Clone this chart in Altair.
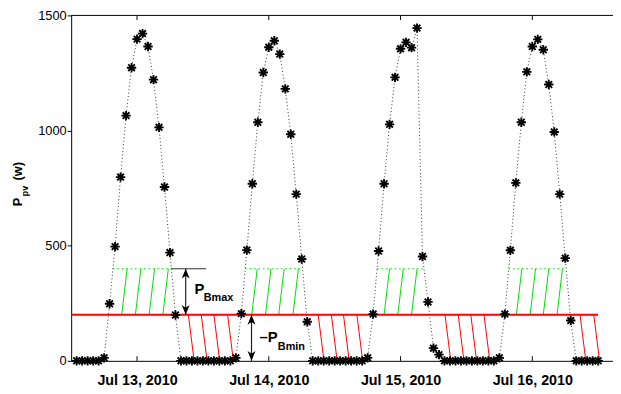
import altair as alt
import pandas as pd

# ---------------- data ----------------
# hourly samples, hours counted from Jul 13, 2010 00:00
hours = list(range(-11, 85))
p_pv = [0, 0, 0, 0, 0,
        13, 248, 496, 798, 1065, 1273, 1397, 1421, 1365, 1221, 1014, 755, 470, 199,
        0, 0, 0, 0, 0, 0, 0, 0, 0, 0,
        13, 205, 481, 769, 1036, 1252, 1362, 1390, 1332, 1181, 984, 724, 442, 170,
        0, 0, 0, 0, 0, 0, 0, 0, 0, 0,
        13, 203, 477, 769, 1027, 1231, 1355, 1383, 1360, 1445, 453, 256, 55, 27,
        0, 0, 0, 0, 0, 0, 0, 0, 0, 0,
        13, 203, 480, 773, 1036, 1255, 1365, 1396, 1351, 1200, 994, 724, 446, 175,
        0, 0, 0, 0, 0]

x_tick_hours = [0, 24, 48, 72]
x_tick_labels = ["Jul 13, 2010", "Jul 14, 2010", "Jul 15, 2010", "Jul 16, 2010"]
y_ticks = [0, 500, 1000, 1500]

p_ref = 200          # red reference level
p_top = 400          # upper (P_Bmax) level
red_line_span = [-12, 84]
green_span_start = [-4.4, 19.7, 43.7, 67.7]
green_span_end = [6.2, 30.1, 52.3, 78.2]
green_hatch = [-2.8, -0.3, 2.2, 4.7, 20.9, 23.4, 25.8, 28.4, 45.0, 47.5, 50.0, 69.1, 71.6, 74.0, 76.5]
green_hatch_shift = 1.0
red_hatch = [9.35, 11.7, 14.0, 16.5, 33.0, 35.4, 37.6, 40.05, 56.1, 58.5, 60.8, 63.2, 80.7, 83.2]
red_hatch_shift = 1.05
bmax_arrow_hour = 8.86
bmax_level_span = [6.2, 12.6]
bmin_arrow_hour = 20.85

big_text = ["P", "\u2013P"]
big_text_h = [10.45, 22.3]
big_text_p = [290, 83]
sub_text = ["Bmax", "Bmin"]
sub_text_h = [12.15, 25.65]
sub_text_p = [259, 48]

X_DOMAIN = [-12, 86.7]
FONT = "Liberation Sans"

# ---------------- scales / axes ----------------
xs = alt.Scale(domain=X_DOMAIN, nice=False, zero=False)
ys = alt.Scale(domain=[0, 1500], nice=False, zero=False)
label_expr = "[" + ", ".join("'%s'" % s for s in x_tick_labels) + "][datum.value / 24]"
x_axis = alt.Axis(values=x_tick_hours, labelExpr=label_expr, title=None, grid=False,
                  ticks=False, tickSize=0, domainColor="black", domainWidth=1,
                  labelFont=FONT, labelFontSize=14.5, labelFontWeight="bold",
                  labelColor="black", labelPadding=13, labelFlush=False)
y_axis = alt.Axis(values=y_ticks, format="d", title=None, grid=False, tickSize=4,
                  tickColor="black", tickWidth=1, domainColor="black", domainWidth=1,
                  labelFont=FONT, labelFontSize=13, labelColor="black", labelPadding=1)


def X(f):
    return alt.X(f, type="quantitative", scale=xs, axis=x_axis)


def Y(f):
    return alt.Y(f, type="quantitative", scale=ys, axis=y_axis)


df = pd.DataFrame({"h": hours, "p": p_pv})

ASTERISK = ("M-1,0L1,0M0,-1L0,1M-0.71,-0.71L0.71,0.71M-0.71,0.71L0.71,-0.71")
HEAD_UP = "M0,0L-1,2.5L0,1.8L1,2.5Z"
HEAD_DOWN = "M0,0L-1,-2.5L0,-1.8L1,-2.5Z"

# green hatch
gh = pd.DataFrame({"h1": green_hatch,
                   "h2": [t + green_hatch_shift for t in green_hatch],
                   "y1": [p_ref] * len(green_hatch),
                   "y2": [p_top] * len(green_hatch)})
green_h = alt.Chart(gh).mark_rule(color="#00dd00", strokeWidth=1).encode(
    x=X("h1"), x2="h2", y=Y("y1"), y2="y2")

gs = pd.DataFrame({"h1": green_span_start, "h2": green_span_end,
                   "p": [p_top] * len(green_span_start)})
green_top = alt.Chart(gs).mark_rule(color="#00dd00", strokeWidth=1.2, strokeDash=[1.5, 3]).encode(
    x=X("h1"), x2="h2", y=Y("p"))

# red hatch
rh = pd.DataFrame({"h1": red_hatch,
                   "h2": [t + red_hatch_shift for t in red_hatch],
                   "y1": [p_ref] * len(red_hatch),
                   "y2": [0] * len(red_hatch)})
red_h = alt.Chart(rh).mark_rule(color="#ff0000", strokeWidth=1).encode(
    x=X("h1"), x2="h2", y=Y("y1"), y2="y2")

ref_df = pd.DataFrame({"h1": [red_line_span[0]], "h2": [red_line_span[1]], "p": [p_ref]})
red_line = alt.Chart(ref_df).mark_rule(color="#ff0000", strokeWidth=2).encode(
    x=X("h1"), x2="h2", y=Y("p"))

# data line + markers
line = alt.Chart(df).mark_line(color="#333333", strokeWidth=1, strokeDash=[1, 2.5]).encode(
    x=X("h"), y=Y("p"))
stars = alt.Chart(df).mark_point(shape=ASTERISK, filled=False, size=90, strokeWidth=1.9,
                                 color="black", opacity=1).encode(x=X("h"), y=Y("p"))

# P_Bmax level marker and arrows
lvl = pd.DataFrame({"h1": [bmax_level_span[0]], "h2": [bmax_level_span[1]], "p": [p_top]})
level = alt.Chart(lvl).mark_rule(color="#333333", strokeWidth=1.2).encode(
    x=X("h1"), x2="h2", y=Y("p"))
arr = pd.DataFrame({"h": [bmax_arrow_hour, bmin_arrow_hour],
                    "top": [p_top, p_ref], "bot": [p_ref, 0]})
arrows = alt.Chart(arr).mark_rule(color="#222222", strokeWidth=1.2).encode(
    x=X("h"), y=Y("top"), y2="bot")
heads_up = alt.Chart(arr).mark_point(shape=HEAD_UP, filled=True, size=64, color="black",
                                     opacity=1).encode(x=X("h"), y=Y("top"))
heads_dn = alt.Chart(arr).mark_point(shape=HEAD_DOWN, filled=True, size=64, color="black",
                                     opacity=1).encode(x=X("h"), y=Y("bot"))

# annotation texts
bt = pd.DataFrame({"h": big_text_h, "p": big_text_p, "t": big_text})
big = alt.Chart(bt).mark_text(align="left", baseline="alphabetic", font=FONT, fontSize=15,
                              fontWeight="bold", color="black").encode(
    x=X("h"), y=Y("p"), text="t:N")
st = pd.DataFrame({"h": sub_text_h, "p": sub_text_p, "t": sub_text})
sub = alt.Chart(st).mark_text(align="left", baseline="alphabetic", font=FONT, fontSize=11,
                              fontWeight="bold", color="black").encode(
    x=X("h"), y=Y("p"), text="t:N")

# y-axis title  P_pv (w)
yt1 = alt.Chart(pd.DataFrame({"t": ["P"]})).mark_text(
    align="center", baseline="alphabetic", angle=270, font=FONT, fontSize=13,
    fontWeight="bold", color="black").encode(x=alt.value(-50), y=alt.value(189), text="t:N")
yt2 = alt.Chart(pd.DataFrame({"t": ["pv"]})).mark_text(
    align="center", baseline="alphabetic", angle=270, font=FONT, fontSize=9,
    fontWeight="bold", color="black").encode(x=alt.value(-44), y=alt.value(178), text="t:N")
yt3 = alt.Chart(pd.DataFrame({"t": ["(w)"]})).mark_text(
    align="center", baseline="alphabetic", angle=270, font=FONT, fontSize=13,
    fontWeight="bold", color="black").encode(x=alt.value(-50), y=alt.value(158), text="t:N")

# box top and inward x ticks
top_df = pd.DataFrame({"h1": [X_DOMAIN[0]], "h2": [X_DOMAIN[1]], "p": [1500]})
top = alt.Chart(top_df).mark_rule(color="black", strokeWidth=1).encode(
    x=X("h1"), x2="h2", y=Y("p"))
tk = pd.DataFrame({"h": x_tick_hours * 2,
                   "a": [0] * 4 + [1500] * 4,
                   "b": [20] * 4 + [1480] * 4})
ticks = alt.Chart(tk).mark_rule(color="black", strokeWidth=1).encode(
    x=X("h"), y=Y("a"), y2="b")

chart = alt.layer(
    green_h, green_top, red_h, red_line, line, level, arrows, heads_up, heads_dn,
    stars, big, sub, yt1, yt2, yt3, top, ticks
).properties(
    width=549, height=350,
    padding={"left": 64, "top": 5, "right": 0, "bottom": 25},
    autosize=alt.AutoSizeParams(type="none"),
    background="white",
).configure_view(stroke=None)

chart.save("out.html", embed_options={"renderer": "svg", "actions": False})
